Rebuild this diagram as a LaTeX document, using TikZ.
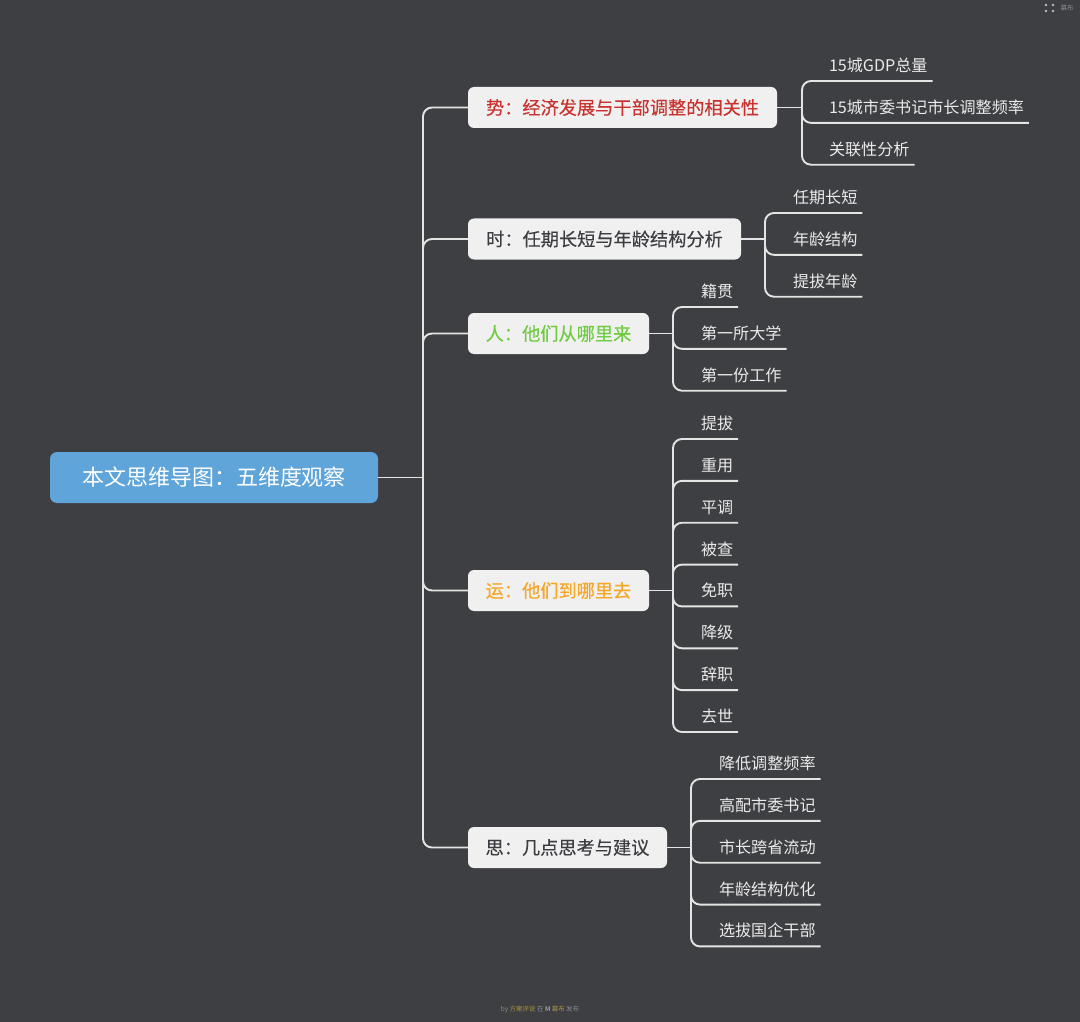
\documentclass[tikz,border=0pt]{standalone}
\usepackage{fontspec}
\setmainfont{Noto Sans CJK SC}
\newfontfamily\branchfont[FakeBold=0.25]{Noto Sans CJK SC}
\usepackage{xcolor}
\usetikzlibrary{positioning}
\definecolor{bgdark}{HTML}{3E3F43}
\definecolor{linegrey}{HTML}{E4E4E4}
\definecolor{rootblue}{HTML}{5FA5DA}
\definecolor{branchgrey}{HTML}{F0F0F0}
\definecolor{textdark}{HTML}{3C3D41}
\definecolor{textred}{HTML}{C9322E}
\definecolor{textgreen}{HTML}{6FCB3F}
\definecolor{textorange}{HTML}{F5A623}
\definecolor{markgold}{HTML}{A8903F}
\definecolor{markgrey}{HTML}{8A8B8E}
\begin{document}
\begin{tikzpicture}[x=1pt,y=-1pt,outer sep=0pt,
  root/.style={fill=rootblue,rounded corners=7pt,text=white,align=center,minimum width=328pt,minimum height=51pt,inner sep=0pt,font=\fontsize{22}{26}\selectfont},
  branch/.style={fill=branchgrey,rounded corners=6pt,text=textdark,align=center,minimum height=41pt,inner sep=0pt,font=\branchfont\fontsize{18.2}{22}\selectfont},
  leaf/.style={text=white!92!black,inner xsep=5pt,inner ysep=8pt,text height=14.5pt,text depth=1.5pt,font=\fontsize{16.1}{18}\selectfont},
  leafnext/.style={leaf,below=9.86pt of #1.south west,anchor=north west},
  link/.style={draw=linegrey,line width=1.9pt,rounded corners=9pt}]
  \fill[bgdark] (0,0) rectangle (1080,1022);
  \node[root] (topic) at (214,477.5) {本文思维导图：五维度观察};
  \coordinate[right=45pt of topic] (trunk);
  \node[branch,minimum width=309pt,right=45pt of trunk,yshift=370pt,text=textred] (shi) {势：经济发展与干部调整的相关性};
  \node[branch,minimum width=273pt,right=45pt of trunk,yshift=238.5pt] (shijian) {时：任期长短与年龄结构分析};
  \node[branch,minimum width=181pt,right=45pt of trunk,yshift=144pt,text=textgreen] (ren) {人：他们从哪里来};
  \node[branch,minimum width=181pt,right=45pt of trunk,yshift=-113pt,text=textorange] (yun) {运：他们到哪里去};
  \node[branch,minimum width=199pt,right=45pt of trunk,yshift=-370pt] (si) {思：几点思考与建议};
  \coordinate[right=25pt of shi] (shifork);
  \coordinate[right=24pt of shijian] (shijianfork);
  \coordinate[right=24pt of ren] (renfork);
  \coordinate[right=24pt of yun] (yunfork);
  \coordinate[right=24pt of si] (sifork);
  \node[leaf,right=47pt of shi,yshift=42.5pt] (shia) {15城GDP总量};
  \node[leafnext=shia] (shib) {15城市委书记市长调整频率};
  \node[leafnext=shib] (shic) {关联性分析};
  \node[leaf,right=47pt of shijian,yshift=42pt] (shijiana) {任期长短};
  \node[leafnext=shijiana] (shijianb) {年龄结构};
  \node[leafnext=shijianb] (shijianc) {提拔年龄};
  \node[leaf,right=47pt of ren,yshift=42.5pt] (rena) {籍贯};
  \node[leafnext=rena] (renb) {第一所大学};
  \node[leafnext=renb] (renc) {第一份工作};
  \node[leaf,right=47pt of yun,yshift=167.5pt] (yuna) {提拔};
  \node[leafnext=yuna] (yunb) {重用};
  \node[leafnext=yunb] (yunc) {平调};
  \node[leafnext=yunc] (yund) {被查};
  \node[leafnext=yund] (yune) {免职};
  \node[leafnext=yune] (yunf) {降级};
  \node[leafnext=yunf] (yung) {辞职};
  \node[leafnext=yung] (yunh) {去世};
  \node[leaf,right=47pt of si,yshift=84.5pt] (sia) {降低调整频率};
  \node[leafnext=sia] (sib) {高配市委书记};
  \node[leafnext=sib] (sic) {市长跨省流动};
  \node[leafnext=sic] (sid) {年龄结构优化};
  \node[leafnext=sid] (sie) {选拔国企干部};
  \draw[link,line width=1.5pt] (topic.east) -- (trunk);
  \draw[link] (trunk) |- (shi.west);
  \draw[link] (trunk) |- (shijian.west);
  \draw[link] (trunk) |- (ren.west);
  \draw[link] (trunk) |- (yun.west);
  \draw[link] (trunk) |- (si.west);
  \draw[link] (shi.east) -- (shifork);
  \draw[link] (shijian.east) -- (shijianfork);
  \draw[link] (ren.east) -- (renfork);
  \draw[link] (yun.east) -- (yunfork);
  \draw[link] (si.east) -- (sifork);
  \foreach \leafname in {shia,shib,shic} \draw[link] (shifork) |- (\leafname.south east);
  \foreach \leafname in {shijiana,shijianb,shijianc} \draw[link] (shijianfork) |- (\leafname.south east);
  \foreach \leafname in {rena,renb,renc} \draw[link] (renfork) |- (\leafname.south east);
  \foreach \leafname in {yuna,yunb,yunc,yund,yune,yunf,yung,yunh} \draw[link] (yunfork) |- (\leafname.south east);
  \foreach \leafname in {sia,sib,sic,sid,sie} \draw[link] (sifork) |- (\leafname.south east);
  \node[text=markgrey,inner sep=0pt,font=\fontsize{6.5}{8}\selectfont] (markbrand) at (1067,8) {幕布};
  \foreach \dotx/\doty in {1046/5,1053/5,1046/11,1053/11} \fill[white!75!black] (\dotx,\doty) circle (1.3pt);
  \node[inner sep=0pt,text=markgrey,font=\fontsize{6.5}{8}\selectfont] (markfoot) at (540,1010) {by \textcolor{markgold}{方案评说} 在 \textcolor{white!80!black}{M} \textcolor{markgold}{幕布} 发布};
\end{tikzpicture}
\end{document}
